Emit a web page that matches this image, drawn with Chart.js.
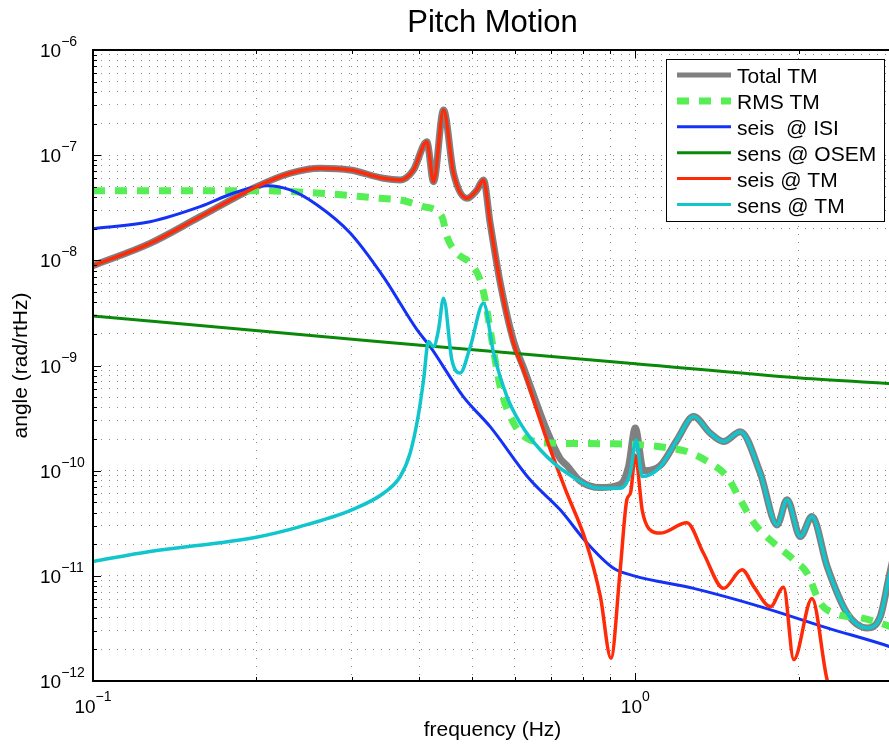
<!DOCTYPE html>
<html>
<head>
<meta charset="utf-8">
<title>Pitch Motion</title>
<script src="https://cdn.jsdelivr.net/npm/chart.js@4.4.1/dist/chart.umd.min.js"></script>
<style>
  html, body { margin: 0; padding: 0; background: #fff; overflow: hidden; }
  #wrap { width: 889px; height: 744px; overflow: hidden; position: relative; }
  canvas { display: block; }
</style>
</head>
<body>
<div id="wrap"><canvas id="c" width="910" height="744" style="width:910px;height:744px"></canvas></div>
<script>
// ---- data: frequency (Hz) and angle spectrum (rad/rtHz) per curve ----
const freqTotal = [0.1, 0.1274, 0.1576, 0.2, 0.231, 0.2623, 0.298, 0.343, 0.3686, 0.3899, 0.4127, 0.4246, 0.443, 0.4622, 0.4893, 0.5105, 0.5249, 0.54, 0.5636, 0.5965, 0.622, 0.687, 0.727, 0.748, 0.791, 0.862, 0.938, 0.972, 1.0, 1.036, 1.112, 1.194, 1.281, 1.375, 1.455, 1.562, 1.70, 1.826, 1.905, 2.016, 2.118, 2.258, 2.459, 2.677, 2.83, 2.94, 3.0];
const totalTM   = [8.9e-9, 1.45e-8, 2.6e-8, 5.0e-8, 6.73e-8, 7.51e-8, 7.23e-8, 6.03e-8, 5.81e-8, 7.23e-8, 1.34e-7, 5.6e-8, 2.69e-7, 6.73e-8, 3.89e-8, 4.67e-8, 5.81e-8, 2.25e-8, 6.1e-9, 1.7e-9, 9.6e-10, 2.4e-10, 1.3e-10, 1.12e-10, 8.0e-11, 6.9e-11, 7.4e-11, 1.1e-10, 2.54e-10, 1.0e-10, 1.12e-10, 1.96e-10, 3.27e-10, 2.27e-10, 1.89e-10, 2.35e-10, 9.5e-11, 3.05e-11, 5.3e-11, 2.36e-11, 3.66e-11, 1.23e-11, 4.4e-12, 3.2e-12, 4.1e-12, 1.0e-11, 1.6e-11];

const freqRms = [0.1, 0.2, 0.2623, 0.3384, 0.3686, 0.407, 0.44, 0.4495, 0.469, 0.4963, 0.5176, 0.5287, 0.54, 0.5636, 0.5965, 0.64, 0.707, 0.912, 1.021, 1.16, 1.245, 1.375, 1.476, 1.562, 1.654, 1.80, 1.96, 2.074, 2.194, 2.357, 2.601, 2.83, 3.0];
const rmsTM   = [4.6e-8, 4.6e-8, 4.34e-8, 3.89e-8, 3.75e-8, 3.24e-8, 2.6e-8, 1.68e-8, 1.17e-8, 9.4e-9, 6.5e-9, 4.2e-9, 2.18e-9, 6.3e-10, 2.83e-10, 1.96e-10, 1.83e-10, 1.8e-10, 1.76e-10, 1.64e-10, 1.52e-10, 1.18e-10, 8.8e-11, 5.3e-11, 3.2e-11, 2.05e-11, 1.42e-11, 1.06e-11, 5.5e-12, 4.3e-12, 4.0e-12, 3.55e-12, 3.2e-12];

const freqSeisIsi = [0.1, 0.1274, 0.1576, 0.1813, 0.2, 0.2094, 0.231, 0.259, 0.298, 0.343, 0.396, 0.4186, 0.4817, 0.54, 0.64, 0.727, 0.815, 0.912, 0.995, 1.281, 1.70, 2.258, 2.94, 3.0];
const seisIsi     = [2.0e-8, 2.33e-8, 3.24e-8, 4.34e-8, 5.0e-8, 5.13e-8, 4.67e-8, 3.36e-8, 1.82e-8, 7.0e-9, 2.18e-9, 1.51e-9, 5.06e-10, 2.62e-10, 8.18e-11, 4.24e-11, 2.05e-11, 1.18e-11, 1.0e-11, 7.6e-12, 5.1e-12, 3.2e-12, 2.13e-12, 2.05e-12];

const freqSensOsem = [0.1, 0.3384, 1.0, 2.015, 3.0];
const sensOsem     = [2.96e-9, 1.68e-9, 1.04e-9, 7.6e-10, 6.7e-10];

const freqSeisTm = [0.1, 0.1274, 0.1576, 0.2, 0.231, 0.2623, 0.298, 0.343, 0.3686, 0.3899, 0.4127, 0.4246, 0.443, 0.4622, 0.4893, 0.5105, 0.5249, 0.54, 0.5636, 0.5965, 0.622, 0.687, 0.748, 0.809, 0.862, 0.902, 0.938, 0.965, 0.98, 1.0, 1.03, 1.06, 1.112, 1.245, 1.336, 1.455, 1.574, 1.654, 1.775, 1.877, 1.96, 2.118, 2.258, 2.34];
const seisTm     = [8.9e-9, 1.45e-8, 2.6e-8, 5.0e-8, 6.73e-8, 7.51e-8, 7.23e-8, 6.03e-8, 5.81e-8, 7.23e-8, 1.34e-7, 5.6e-8, 2.69e-7, 6.73e-8, 3.89e-8, 4.67e-8, 5.81e-8, 2.25e-8, 6.06e-9, 1.63e-9, 9.1e-10, 1.96e-10, 6.1e-11, 2.2e-11, 6.4e-12, 1.65e-12, 1.14e-11, 5.3e-11, 6.15e-11, 1.4e-10, 4.2e-11, 2.8e-11, 2.55e-11, 3.2e-11, 1.64e-11, 7.6e-12, 1.14e-11, 7.9e-12, 5.1e-12, 7.8e-12, 1.6e-12, 6.1e-12, 1.03e-12, 6.6e-13];

const freqSensTm = [0.1, 0.1274, 0.2, 0.241, 0.3, 0.3433, 0.3686, 0.3845, 0.3982, 0.407, 0.4155, 0.4246, 0.4336, 0.443, 0.459, 0.4755, 0.4963, 0.5249, 0.548, 0.58, 0.6135, 0.668, 0.748, 0.862, 0.938, 0.979, 1.004, 1.029, 1.112, 1.194, 1.281, 1.375, 1.455, 1.562, 1.70, 1.826, 1.905, 2.016, 2.118, 2.258, 2.459, 2.677, 2.83, 2.94, 3.0];
const sensTm     = [1.37e-11, 1.70e-11, 2.33e-11, 2.94e-11, 4.24e-11, 6.1e-11, 8.8e-11, 1.47e-10, 3.4e-10, 7.3e-10, 1.69e-9, 1.51e-9, 2.18e-9, 4.36e-9, 1.13e-9, 8.5e-10, 1.51e-9, 3.91e-9, 1.31e-9, 5.06e-10, 2.83e-10, 1.58e-10, 9.5e-11, 6.8e-11, 6.8e-11, 9.5e-11, 1.96e-10, 8.8e-11, 1.09e-10, 1.96e-10, 3.27e-10, 2.27e-10, 1.89e-10, 2.35e-10, 9.5e-11, 3.05e-11, 5.3e-11, 2.36e-11, 3.66e-11, 1.23e-11, 4.4e-12, 3.2e-12, 4.1e-12, 1.0e-11, 1.5e-11];

// ---- axes: grid positions and labelled decades ----
const xGridValues = [0.1, 0.2, 0.3, 0.4, 0.5, 0.6, 0.7, 0.8, 0.9, 1, 2, 3];
const xLabelExponents = [-1, 0];
const yLabelExponents = [-6, -7, -8, -9, -10, -11, -12];
const minorSteps = [2, 3, 4, 5, 6, 7, 8, 9];

const yGridValues = [];
yLabelExponents.slice().reverse().forEach(e => {
  yGridValues.push(Math.pow(10, e));
  if (e < -6) minorSteps.forEach(m => yGridValues.push(m * Math.pow(10, e)));
});

const FONT = "'Liberation Sans', Arial, Helvetica, sans-serif";
const pts = (f, v) => f.map((x, i) => ({ x, y: v[i] }));

const series = [
  { label: 'Total TM',    f: freqTotal,    v: totalTM,  color: '#808080', width: 7,   legendWidth: 5, dash: [],       order: 6 },
  { label: 'RMS TM',      f: freqRms,      v: rmsTM,    color: '#55ee55', width: 7,   legendWidth: 7, dash: [12, 10], order: 5 },
  { label: 'seis  @ ISI', f: freqSeisIsi,  v: seisIsi,  color: '#1432f5', width: 3,   legendWidth: 3, dash: [],       order: 4 },
  { label: 'sens @ OSEM', f: freqSensOsem, v: sensOsem, color: '#0a880a', width: 3,   legendWidth: 3, dash: [],       order: 3 },
  { label: 'seis @ TM',   f: freqSeisTm,   v: seisTm,   color: '#ff2a08', width: 3.5, legendWidth: 3, dash: [],       order: 2 },
  { label: 'sens @ TM',   f: freqSensTm,   v: sensTm,   color: '#10c6cc', width: 3.5, legendWidth: 3, dash: [],       order: 1 }
];

// axis frame, inward tick marks, power-of-ten labels, titles and legend box
const decorations = {
  id: 'decorations',
  afterDraw(chart) {
    const { ctx, chartArea: a, scales: { x, y } } = chart;
    ctx.save();

    // tick marks pointing into the plot
    ctx.strokeStyle = '#000';
    ctx.lineWidth = 1;
    ctx.beginPath();
    yGridValues.forEach(v => {
      const py = Math.round(y.getPixelForValue(v)) + 0.5;
      const major = Math.abs(Math.log10(v) - Math.round(Math.log10(v))) < 1e-6;
      const len = major ? 8 : 4;
      ctx.moveTo(a.left, py); ctx.lineTo(a.left + len, py);
    });
    xGridValues.forEach(v => {
      const px = Math.round(x.getPixelForValue(v)) + 0.5;
      const major = Math.abs(Math.log10(v) - Math.round(Math.log10(v))) < 1e-6;
      const len = major ? 8 : 4;
      ctx.moveTo(px, a.bottom); ctx.lineTo(px, a.bottom - len);
      ctx.moveTo(px, a.top); ctx.lineTo(px, a.top + len);
    });
    ctx.stroke();

    // frame
    ctx.lineWidth = 2;
    ctx.beginPath();
    ctx.moveTo(a.left, a.bottom); ctx.lineTo(a.left, a.top); ctx.lineTo(a.right + 5, a.top);
    ctx.moveTo(a.left - 1, a.bottom); ctx.lineTo(a.right + 5, a.bottom);
    ctx.stroke();

    ctx.fillStyle = '#000';
    ctx.textBaseline = 'alphabetic';

    // y decade labels
    yLabelExponents.forEach(e => {
      const py = y.getPixelForValue(Math.pow(10, e));
      ctx.font = '19px ' + FONT;
      ctx.textAlign = 'left';
      const w = ctx.measureText('10').width;
      ctx.fillText('10', 40, py + 7);
      ctx.font = '14px ' + FONT;
      ctx.fillText('\u2212' + (-e), 40 + w, py - 4);
    });

    // x decade labels
    xLabelExponents.forEach(e => {
      const px = x.getPixelForValue(Math.pow(10, e));
      const sup = e < 0 ? '\u2212' + (-e) : String(e);
      ctx.font = '19px ' + FONT;
      const w1 = ctx.measureText('10').width;
      ctx.font = '14px ' + FONT;
      const w2 = ctx.measureText(sup).width;
      const start = px - (w1 + w2) / 2;
      ctx.textAlign = 'left';
      ctx.font = '19px ' + FONT;
      ctx.fillText('10', start, 713);
      ctx.font = '14px ' + FONT;
      ctx.fillText(sup, start + w1, 701);
    });

    // titles
    const cx = (a.left + a.right) / 2;
    ctx.textAlign = 'center';
    ctx.font = '31px ' + FONT;
    ctx.fillText('Pitch Motion', cx - 1, 32);
    ctx.font = '21px ' + FONT;
    ctx.fillText('frequency (Hz)', cx - 1, 736);
    ctx.save();
    ctx.translate(27, (a.top + a.bottom) / 2);
    ctx.rotate(-Math.PI / 2);
    ctx.fillText('angle (rad/rtHz)', 0, 0);
    ctx.restore();

    // legend
    const box = { x: 666.5, y: 59.5, w: 218, h: 162 };
    ctx.fillStyle = '#fff';
    ctx.fillRect(box.x, box.y, box.w, box.h);
    ctx.strokeStyle = '#000';
    ctx.lineWidth = 1;
    ctx.strokeRect(box.x, box.y, box.w, box.h);
    ctx.font = '21px ' + FONT;
    ctx.textAlign = 'left';
    series.forEach((s, i) => {
      const ry = 75 + i * 25.9;
      ctx.save();
      ctx.strokeStyle = s.color;
      ctx.lineWidth = s.legendWidth;
      ctx.setLineDash(s.dash);
      ctx.beginPath();
      ctx.moveTo(677, ry); ctx.lineTo(731, ry);
      ctx.stroke();
      ctx.restore();
      ctx.fillStyle = '#000';
      ctx.fillText(s.label, 737, ry + 8);
    });

    ctx.restore();
  }
};

const gridStyle = { color: 'rgba(0,0,0,0.45)', lineWidth: 1, drawTicks: false };

new Chart(document.getElementById('c'), {
  type: 'line',
  data: {
    datasets: series.map(s => ({
      label: s.label,
      data: pts(s.f, s.v),
      borderColor: s.color,
      backgroundColor: s.color,
      borderWidth: s.width,
      borderDash: s.dash,
      order: s.order,
      fill: false,
      clip: 0,
      pointRadius: 0,
      cubicInterpolationMode: 'monotone',
      borderJoinStyle: 'round'
    }))
  },
  options: {
    responsive: false,
    animation: false,
    events: [],
    layout: { padding: { left: 93, top: 50, right: 16, bottom: 63 } },
    plugins: { legend: { display: false }, tooltip: { enabled: false }, title: { display: false } },
    scales: {
      x: {
        type: 'logarithmic', min: 0.1, max: 3,
        afterBuildTicks: s => { s.ticks = xGridValues.map(value => ({ value })); },
        afterFit: s => { s.height = 0; },
        ticks: { display: false },
        grid: gridStyle,
        border: { display: false, dash: [1, 7] }
      },
      y: {
        type: 'logarithmic', min: 1e-12, max: 1e-6,
        afterBuildTicks: s => { s.ticks = yGridValues.map(value => ({ value })); },
        afterFit: s => { s.width = 0; },
        ticks: { display: false },
        grid: gridStyle,
        border: { display: false, dash: [1, 7] }
      }
    }
  },
  plugins: [decorations]
});
</script>
</body>
</html>
